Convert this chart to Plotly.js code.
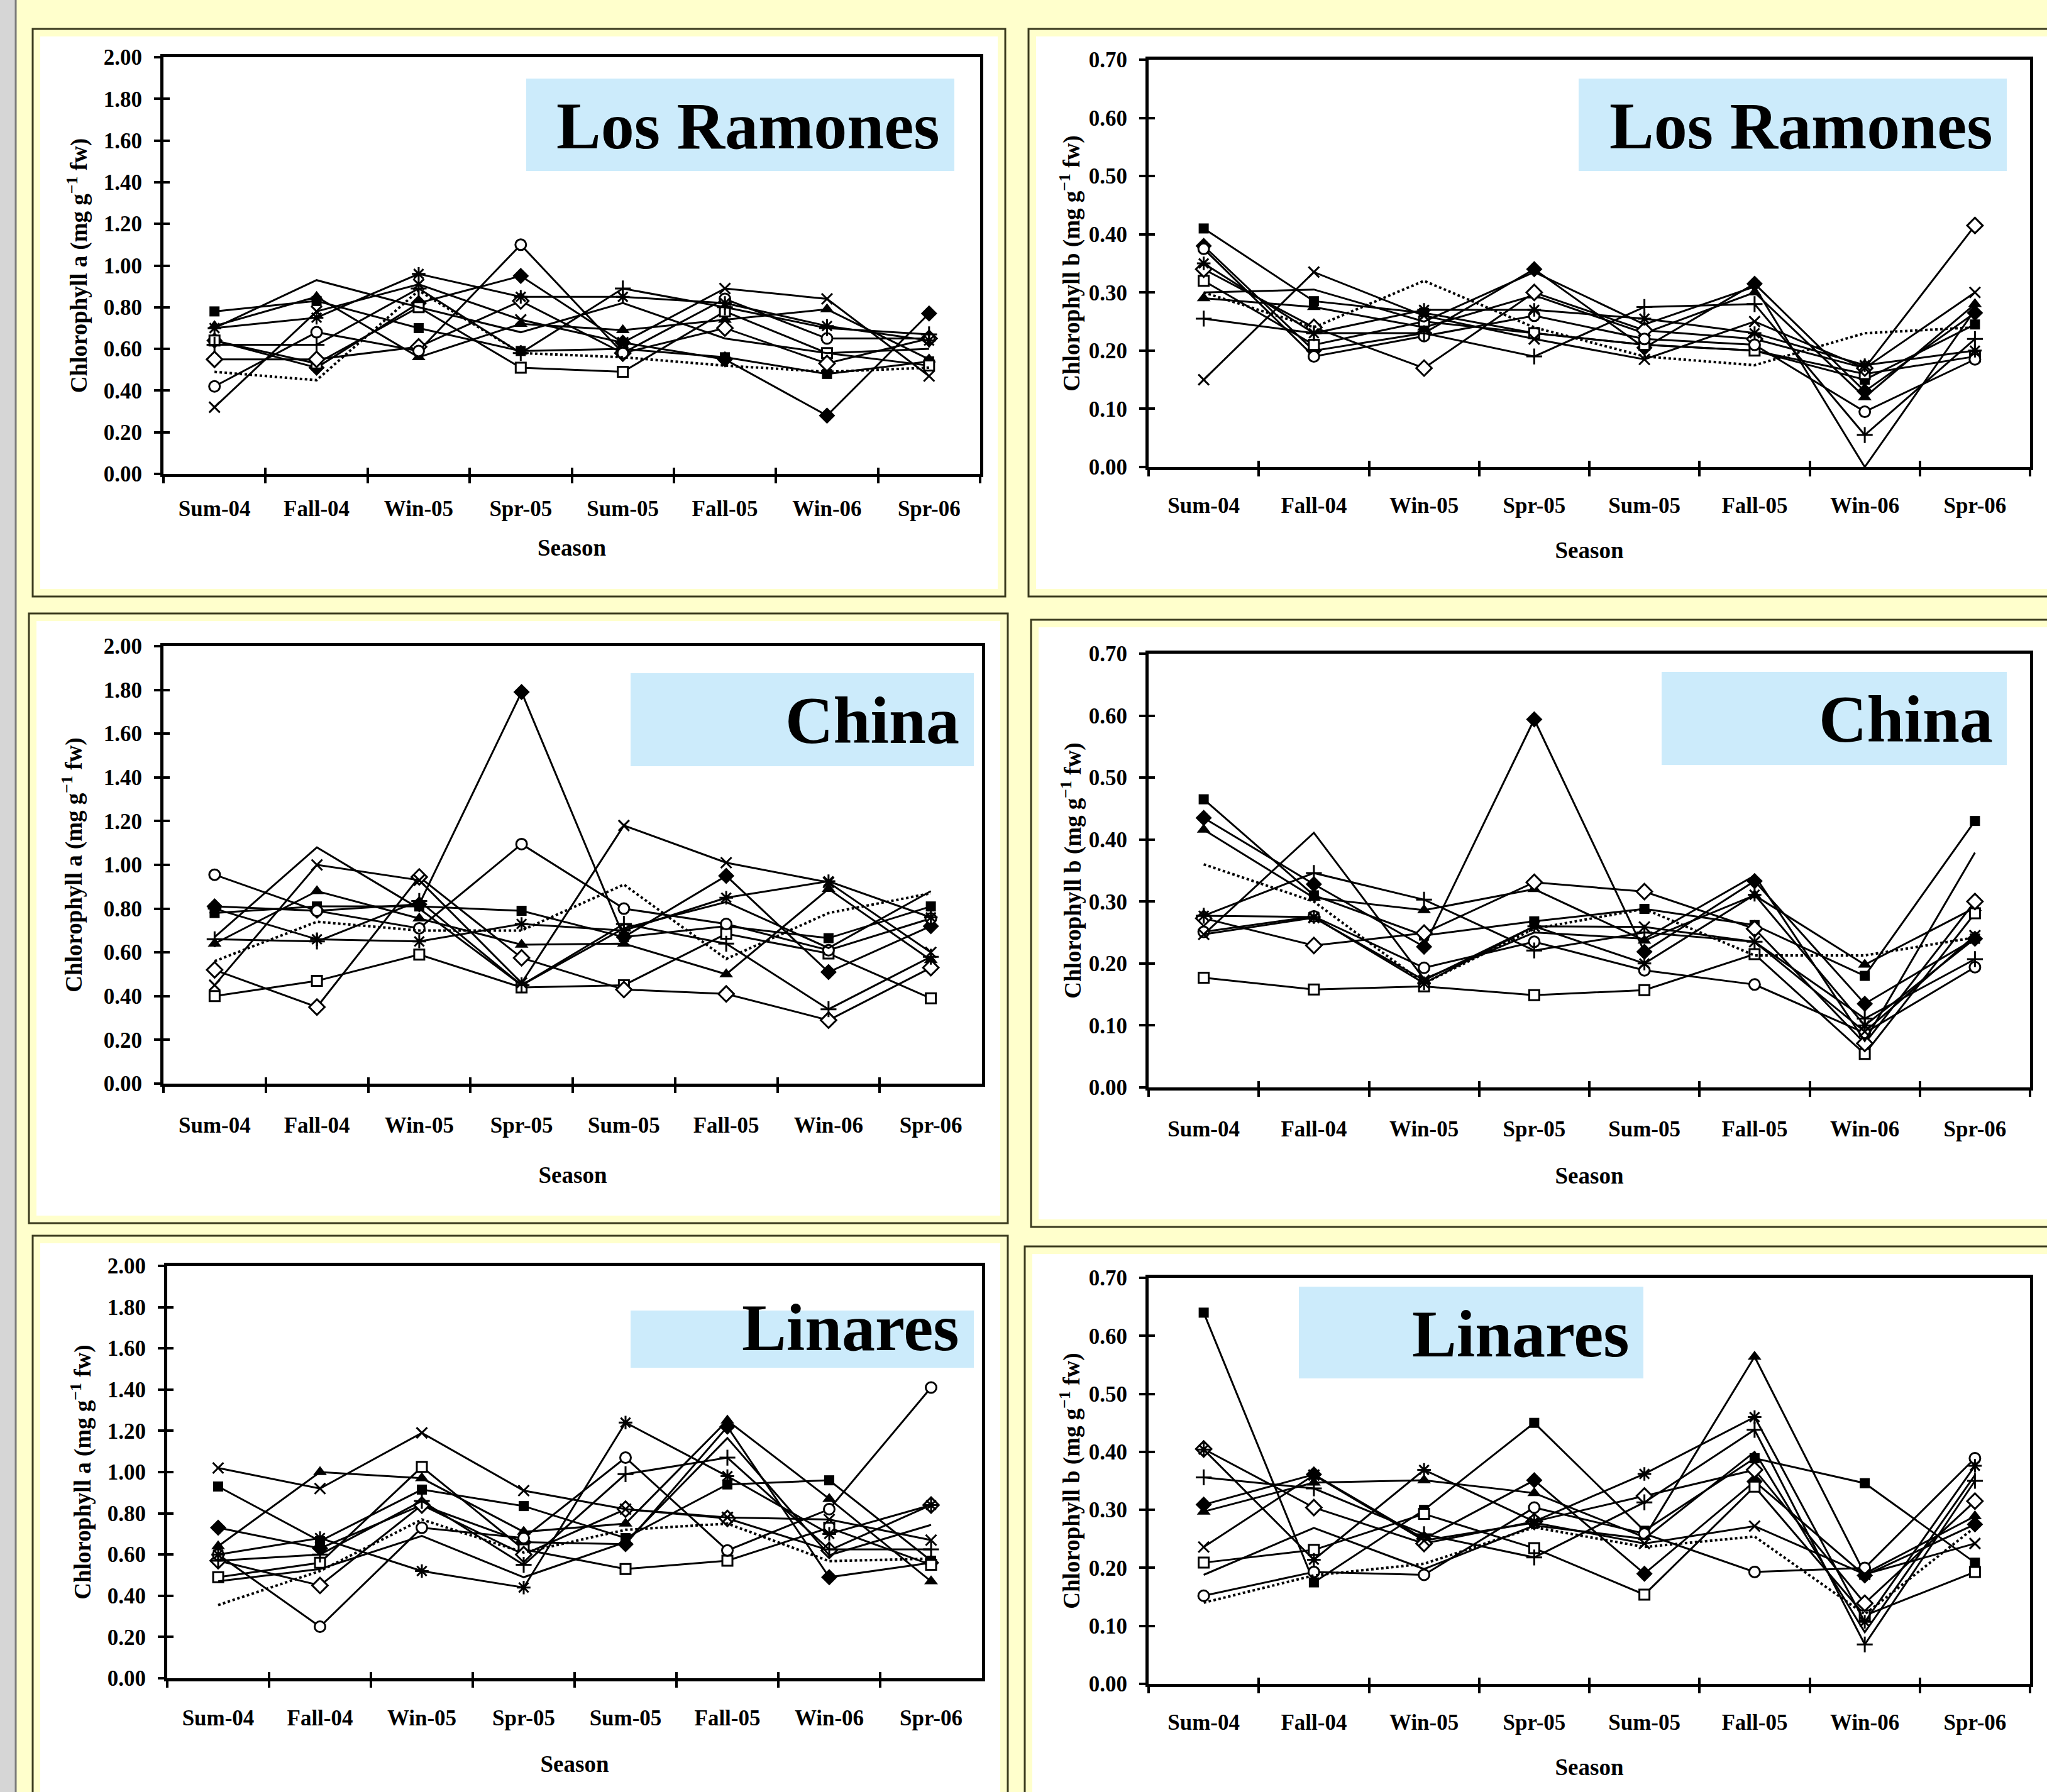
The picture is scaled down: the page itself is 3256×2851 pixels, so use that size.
<!DOCTYPE html>
<html><head><meta charset="utf-8">
<script src="https://cdn.plot.ly/plotly-3.0.1.min.js"></script>
<style>html,body{margin:0;padding:0;background:#FFFFCC;} #chart{width:3256px;height:2851px;}</style>
</head><body><div id="chart"></div>
<script>
// ---------------- DATA ----------------
const seasons = ['Sum-04','Fall-04','Win-05','Spr-05','Sum-05','Fall-05','Win-06','Spr-06'];
const seriesKeys = ['sqF','diaF','triF','sqO','diaO','circO','x','star','plus','line','dot'];

// Los Ramones – chlorophyll a (rows follow seriesKeys)
const losRamonesA = [
  [0.78, 0.83, 0.70, 0.59, 0.60, 0.56, 0.48, 0.54],
  [0.64, 0.51, 0.82, 0.95, 0.63, 0.55, 0.28, 0.77],
  [0.71, 0.85, 0.56, 0.72, 0.69, 0.74, 0.79, 0.55],
  [0.64, 0.53, 0.80, 0.51, 0.49, 0.78, 0.58, 0.52],
  [0.55, 0.55, 0.61, 0.83, 0.58, 0.70, 0.53, 0.65],
  [0.42, 0.68, 0.59, 1.10, 0.58, 0.84, 0.65, 0.65],
  [0.32, 0.78, 0.91, 0.74, 0.63, 0.89, 0.84, 0.47],
  [0.70, 0.75, 0.96, 0.85, 0.85, 0.82, 0.71, 0.64],
  [0.62, 0.62, 0.89, 0.58, 0.89, 0.80, 0.70, 0.67],
  [0.70, 0.93, 0.80, 0.68, 0.82, 0.65, 0.58, 0.60],
  [0.49, 0.45, 0.88, 0.58, 0.56, 0.52, 0.49, 0.51]
];
// Los Ramones – chlorophyll b
const losRamonesB = [
  [0.41, 0.285, 0.265, 0.23, 0.21, 0.20, 0.15, 0.245],
  [0.38, 0.20, 0.23, 0.34, 0.205, 0.315, 0.13, 0.265],
  [0.29, 0.275, 0.24, 0.295, 0.23, 0.30, 0.12, 0.28],
  [0.32, 0.21, 0.25, 0.23, 0.21, 0.20, 0.16, 0.19],
  [0.34, 0.24, 0.17, 0.30, 0.235, 0.22, 0.17, 0.415],
  [0.375, 0.19, 0.225, 0.26, 0.22, 0.21, 0.095, 0.185],
  [0.15, 0.335, 0.26, 0.22, 0.185, 0.25, 0.17, 0.30],
  [0.35, 0.23, 0.27, 0.27, 0.255, 0.23, 0.175, 0.20],
  [0.255, 0.23, 0.23, 0.19, 0.275, 0.28, 0.055, 0.22],
  [0.30, 0.305, 0.25, 0.335, 0.245, 0.31, 0.00, 0.27],
  [0.30, 0.24, 0.32, 0.24, 0.19, 0.175, 0.23, 0.24]
];
// China – chlorophyll a
const chinaA = [
  [0.78, 0.81, 0.81, 0.79, 0.67, 0.72, 0.665, 0.81],
  [0.81, 0.79, 0.82, 1.79, 0.67, 0.95, 0.51, 0.72],
  [0.64, 0.88, 0.755, 0.635, 0.64, 0.50, 0.89, 0.565],
  [0.40, 0.47, 0.59, 0.44, 0.45, 0.685, 0.595, 0.39],
  [0.52, 0.35, 0.945, 0.575, 0.43, 0.41, 0.29, 0.53],
  [0.955, 0.79, 0.71, 1.095, 0.80, 0.73, 0.61, 0.755],
  [0.45, 1.00, 0.93, 0.46, 1.18, 1.01, 0.92, 0.60],
  [0.80, 0.66, 0.65, 0.73, 0.70, 0.85, 0.925, 0.76],
  [0.66, 0.65, 0.835, 0.45, 0.73, 0.64, 0.34, 0.58],
  [0.67, 1.08, 0.80, 0.45, 0.71, 0.83, 0.62, 0.88],
  [0.56, 0.74, 0.70, 0.70, 0.91, 0.57, 0.78, 0.87]
];
// China – chlorophyll b
const chinaB = [
  [0.465, 0.31, 0.245, 0.268, 0.288, 0.262, 0.18, 0.43],
  [0.435, 0.328, 0.227, 0.594, 0.219, 0.333, 0.135, 0.24],
  [0.416, 0.306, 0.286, 0.32, 0.237, 0.31, 0.198, 0.29],
  [0.177, 0.158, 0.163, 0.149, 0.157, 0.215, 0.054, 0.281],
  [0.273, 0.229, 0.249, 0.331, 0.316, 0.256, 0.071, 0.30],
  [0.251, 0.276, 0.193, 0.235, 0.189, 0.166, 0.088, 0.194],
  [0.247, 0.274, 0.173, 0.26, 0.259, 0.235, 0.09, 0.245],
  [0.277, 0.275, 0.168, 0.26, 0.20, 0.311, 0.10, 0.24],
  [0.277, 0.346, 0.303, 0.221, 0.25, 0.235, 0.111, 0.207],
  [0.247, 0.411, 0.175, 0.25, 0.24, 0.342, 0.075, 0.379],
  [0.36, 0.30, 0.168, 0.256, 0.288, 0.213, 0.213, 0.242]
];
// Linares – chlorophyll a
const linaresA = [
  [0.93, 0.665, 0.915, 0.835, 0.68, 0.94, 0.96, 0.57],
  [0.73, 0.63, 0.84, 0.66, 0.65, 1.22, 0.49, 0.56],
  [0.64, 1.00, 0.97, 0.71, 0.75, 1.25, 0.87, 0.47],
  [0.49, 0.56, 1.025, 0.625, 0.53, 0.57, 0.73, 0.55],
  [0.57, 0.45, 0.84, 0.60, 0.82, 0.775, 0.62, 0.84],
  [0.60, 0.25, 0.73, 0.68, 1.07, 0.62, 0.82, 1.41],
  [1.02, 0.92, 1.19, 0.91, 0.82, 0.78, 0.77, 0.67],
  [0.60, 0.68, 0.52, 0.44, 1.24, 0.98, 0.70, 0.84],
  [0.57, 0.60, 0.86, 0.55, 0.99, 1.07, 0.625, 0.625],
  [0.47, 0.53, 0.69, 0.49, 0.66, 1.165, 0.597, 0.744],
  [0.355, 0.52, 0.77, 0.61, 0.72, 0.75, 0.568, 0.58]
];
// Linares – chlorophyll b
const linaresB = [
  [0.64, 0.175, 0.30, 0.45, 0.264, 0.389, 0.346, 0.209],
  [0.309, 0.361, 0.25, 0.351, 0.19, 0.349, 0.187, 0.275],
  [0.297, 0.347, 0.351, 0.329, 0.253, 0.564, 0.19, 0.289],
  [0.209, 0.231, 0.293, 0.234, 0.154, 0.34, 0.118, 0.193],
  [0.405, 0.304, 0.242, 0.28, 0.324, 0.369, 0.139, 0.315],
  [0.152, 0.193, 0.188, 0.304, 0.259, 0.193, 0.20, 0.389],
  [0.236, 0.36, 0.247, 0.278, 0.242, 0.272, 0.189, 0.242],
  [0.404, 0.214, 0.369, 0.28, 0.362, 0.46, 0.107, 0.376],
  [0.356, 0.337, 0.258, 0.218, 0.313, 0.438, 0.068, 0.35],
  [0.188, 0.269, 0.198, 0.273, 0.25, 0.40, 0.089, 0.36],
  [0.14, 0.187, 0.207, 0.27, 0.236, 0.254, 0.12, 0.27]
];
const siteLabels = ['Los Ramones','Los Ramones','China','China','Linares','Linares'];
const yTitles = ['Chlorophyll a (mg g<sup>−1</sup> fw)','Chlorophyll b (mg g<sup>−1</sup> fw)'];
const xTitle = 'Season';

// ---------------- LAYOUT / STYLE ----------------
const W = 3256, H = 2851;
const px = v => v / W;
const py = v => 1 - v / H;
const FONT = 'Liberation Serif, Times New Roman, serif';

const panels = [
  {data: losRamonesA, ymax: 2.0, dtick: 0.2, yt: 0, plot:[260,91,1559,754],  frame:[52,46,1599,949],   box:[837,125,1518,272],  tx:1497, ty:201,  xls:20, xts:32, yts:16},
  {data: losRamonesB, ymax: 0.7, dtick: 0.1, yt: 1, plot:[1827,95,3229,743], frame:[1636,46,3270,949], box:[2511,125,3192,272], tx:3172, ty:201,  xls:26, xts:41, yts:4},
  {data: chinaA,      ymax: 2.0, dtick: 0.2, yt: 0, plot:[260,1028,1562,1724], frame:[46,976,1603,1946], box:[1003,1071,1549,1219], tx:1528, ty:1146, xls:31, xts:49, yts:24},
  {data: chinaB,      ymax: 0.7, dtick: 0.1, yt: 1, plot:[1827,1040,3229,1730], frame:[1640,986,3270,1952], box:[2643,1069,3192,1217], tx:3172, ty:1144, xls:31, xts:44, yts:2},
  {data: linaresA,    ymax: 2.0, dtick: 0.2, yt: 0, plot:[266,2014,1562,2670], frame:[52,1966,1603,2880], box:[1003,2085,1549,2176], tx:1528, ty:2112, xls:28, xts:43, yts:16},
  {data: linaresB,    ymax: 0.7, dtick: 0.1, yt: 1, plot:[1827,2033,3229,2679], frame:[1630,1983,3270,2880], box:[2066,2047,2614,2193], tx:2594, ty:2122, xls:26, xts:41, yts:4}
];

const LW = 3;
const styles = {
  sqF:  {mode:'lines+markers', marker:{symbol:'square', size:16, color:'black'}},
  diaF: {mode:'lines+markers', marker:{symbol:'diamond', size:20, color:'black'}},
  triF: {mode:'lines+markers', marker:{symbol:'triangle-up', size:19, color:'black'}},
  sqO:  {mode:'lines+markers', marker:{symbol:'square', size:16, color:'white', line:{color:'black', width:3}}},
  diaO: {mode:'lines+markers', marker:{symbol:'diamond', size:19, color:'white', line:{color:'black', width:3}}},
  circO:{mode:'lines+markers', marker:{symbol:'circle', size:17, color:'white', line:{color:'black', width:3}}},
  x:    {mode:'lines+markers', marker:{symbol:'x-thin', size:17, color:'black', line:{color:'black', width:3}}},
  star: {mode:'lines+markers', marker:{symbol:'asterisk', size:18, color:'black', line:{color:'black', width:3}}},
  plus: {mode:'lines+markers', marker:{symbol:'cross-thin', size:18, color:'black', line:{color:'black', width:3}}},
  line: {mode:'lines'},
  dot:  {mode:'lines', dash:'dot'}
};

const tickFont = {family: FONT, size: 35, color: 'black', weight: 'bold'};
const titleFont = {family: FONT, size: 37, color: 'black', weight: 'bold'};

const traces = [];
const layout = {
  width: W, height: H,
  margin: {l:0, r:0, t:0, b:0},
  paper_bgcolor: '#FFFFCC',
  plot_bgcolor: 'white',
  showlegend: false,
  shapes: [],
  annotations: []
};

// left grey strip
layout.shapes.push({type:'rect', xref:'paper', yref:'paper', x0:0, x1:px(25), y0:0, y1:1, fillcolor:'#D6D6D6', line:{width:0}, layer:'below'});
layout.shapes.push({type:'line', xref:'paper', yref:'paper', x0:px(25), x1:px(25), y0:0, y1:1, line:{color:'#7A7A7A', width:3}, layer:'below'});

panels.forEach((p, i) => {
  const n = i + 1, m = i + 7;
  const xs = n === 1 ? '' : String(n);
  const [l, t, r, b] = p.plot;
  const xd = [px(l), px(r)], yd = [py(b), py(t)];

  // frame + white chart area
  const [fl, ft, fr, fb] = p.frame;
  layout.shapes.push({type:'rect', xref:'paper', yref:'paper', x0:px(fl), x1:px(fr), y0:py(fb), y1:py(ft),
    fillcolor:'#FFFFCC', line:{color:'#3B3B1E', width:3}, layer:'below'});
  layout.shapes.push({type:'rect', xref:'paper', yref:'paper', x0:px(fl+12), x1:px(fr-12), y0:py(fb-12), y1:py(ft+12),
    fillcolor:'white', line:{width:0}, layer:'below'});

  // site label box
  const [bl, bt, br, bb] = p.box;
  layout.shapes.push({type:'rect', xref:'paper', yref:'paper', x0:px(bl), x1:px(br), y0:py(bb), y1:py(bt),
    fillcolor:'#CCEBFB', line:{width:0}, layer:'above'});
  layout.annotations.push({xref:'paper', yref:'paper', x:px(p.tx), y:py(p.ty), xanchor:'right', yanchor:'middle',
    text: siteLabels[i], showarrow:false, font:{family:FONT, size:106, color:'black', weight:'bold'}});

  layout['xaxis' + xs] = {
    domain: xd, anchor: 'y' + xs, type:'category', categoryorder:'array', categoryarray: seasons,
    range:[-0.5, 7.5], tickson:'boundaries', ticks:'outside', ticklen:10, tickwidth:4, tickcolor:'black',
    showline:true, linewidth:5, linecolor:'black', mirror:true, showgrid:false, zeroline:false,
    tickfont: tickFont, ticklabelstandoff: p.xls,
    title:{text: xTitle, font: titleFont, standoff: p.xts}
  };
  layout['yaxis' + xs] = {
    domain: yd, anchor: 'x' + xs, range:[0, p.ymax], tick0:0, dtick:p.dtick, tickformat:'.2f',
    ticks:'outside', ticklen:10, tickwidth:4, tickcolor:'black',
    showline:true, linewidth:5, linecolor:'black', mirror:true, showgrid:false, zeroline:false,
    tickfont: tickFont, ticklabelstandoff: 12,
    title:{text: yTitles[p.yt], font: titleFont, standoff: p.yts}
  };
  // overlay axes to make the tick marks cross the axis line
  layout['xaxis' + m] = {
    overlaying: 'x' + xs, anchor: 'y' + m, type:'category', categoryorder:'array', categoryarray: seasons,
    range:[-0.5, 7.5], tickson:'boundaries', ticks:'inside', ticklen:10, tickwidth:4, tickcolor:'black',
    showline:false, showticklabels:false, showgrid:false, zeroline:false
  };
  layout['yaxis' + m] = {
    overlaying: 'y' + xs, anchor: 'x' + m, range:[0, p.ymax], tick0:0, dtick:p.dtick,
    ticks:'inside', ticklen:10, tickwidth:4, tickcolor:'black',
    showline:false, showticklabels:false, showgrid:false, zeroline:false
  };
  traces.push({x: seasons, y: seasons.map(() => null), xaxis:'x' + m, yaxis:'y' + m,
    type:'scatter', mode:'lines', hoverinfo:'skip', showlegend:false});

  seriesKeys.forEach((k, si) => {
    const st = styles[k];
    const tr = {
      x: seasons, y: p.data[si], type:'scatter', mode: st.mode,
      xaxis:'x' + xs, yaxis:'y' + xs, name:k,
      line:{color:'black', width: k === 'dot' ? 4 : LW, dash: st.dash || 'solid'},
      cliponaxis:false
    };
    if (st.marker) tr.marker = st.marker;
    traces.push(tr);
  });
});

Plotly.newPlot('chart', traces, layout, {displayModeBar:false, staticPlot:true});
</script>
</body></html>
